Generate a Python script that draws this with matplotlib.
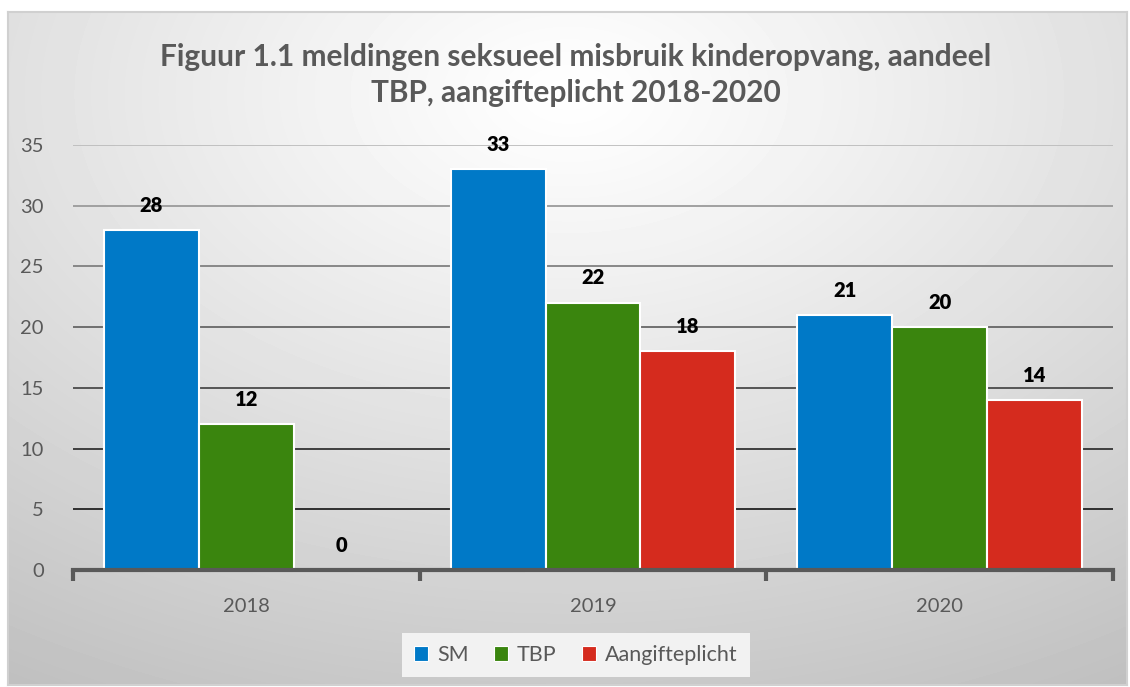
import numpy as np
import matplotlib
matplotlib.use("Agg")
import matplotlib.pyplot as plt
from matplotlib.patches import Patch

years = ["2018", "2019", "2020"]
series_names = ["SM", "TBP", "Aangifteplicht"]
sm = [28, 33, 21]
tbp = [12, 22, 20]
aangifte = [0, 18, 14]
yticks = [0, 5, 10, 15, 20, 25, 30, 35]
title = "Figuur 1.1 meldingen seksueel misbruik kinderopvang, aandeel\nTBP, aangifteplicht 2018-2020"

colors = ["#0079C7", "#3A850E", "#D52B1E"]
grid_colors = {5: "#222222", 10: "#333333", 15: "#4a4a4a", 20: "#666666",
               25: "#808080", 30: "#9a9a9a", 35: "#bdbdbd"}

W, H = 1130, 687
plt.rcParams['font.family'] = ['Lato', 'DejaVu Sans']
fig = plt.figure(figsize=(W / 100, H / 100), dpi=100)
fig.patch.set_facecolor("white")

# background radial gradient inside border
bx0, by0, bx1, by1 = 8, 12, 1127, 685
bg = fig.add_axes([bx0 / W, 1 - by1 / H, (bx1 - bx0) / W, (by1 - by0) / H])
ny, nx = 200, 320
yy, xx = np.mgrid[0:ny, 0:nx]
cx, cy = nx * 0.5, ny * 0.12
d = np.sqrt(((xx - cx) / nx) ** 2 + ((yy - cy) / ny) ** 2 * 0.9)
d = d / d.max()
val = 1.0 - 0.25 * np.clip(d, 0, 1) ** 1.1
bg.imshow(val, cmap="gray", vmin=0, vmax=1, aspect="auto", extent=[0, 1, 0, 1], interpolation="bilinear")
bg.set_xticks([]); bg.set_yticks([])
for s in bg.spines.values():
    s.set_color("#d0d0d0")
    s.set_linewidth(1.5)
bg.set_zorder(0)

ax = fig.add_axes([73 / W, 1 - 570 / H, (1113 - 73) / W, (570 - 145) / H])
ax.set_zorder(1)
ax.patch.set_alpha(0)
ax.set_xlim(-0.5, 2.5)
ax.set_ylim(0, 35)

x = np.arange(len(years))
w = 0.274
data = [sm, tbp, aangifte]
for i, (vals, c) in enumerate(zip(data, colors)):
    pos = x + (i - 1) * w
    ax.bar(pos, vals, width=w, color=c, edgecolor="white", linewidth=1.5, zorder=3)
    for px, v in zip(pos, vals):
        ax.annotate(str(v), (px, v), xytext=(0, 18), textcoords="offset points",
                    ha="center", va="center", fontsize=14.5, fontweight="heavy", color="black", zorder=4)

for t in yticks[1:]:
    ax.axhline(t, color=grid_colors[t], linewidth=1.3, zorder=1)

for s in ["top", "right", "left"]:
    ax.spines[s].set_visible(False)
ax.spines["bottom"].set_color("#595959")
ax.spines["bottom"].set_linewidth(3)
ax.spines["bottom"].set_zorder(5)

ax.set_yticks(yticks)
ax.set_yticklabels([str(t) for t in yticks])
ax.tick_params(axis="y", length=0, pad=21, labelsize=14.5, labelcolor="#595959")
ax.set_xticks(x)
ax.set_xticklabels(years)
ax.tick_params(axis="x", length=0, pad=20, labelsize=14.5, labelcolor="#595959")
ax.set_xticks([-0.5, 0.5, 1.5, 2.5], minor=True)
ax.tick_params(axis="x", which="minor", length=8, width=3, color="#595959", direction="out")

fig.text(576 / W, 1 - 75 / H, title, ha="center", va="center", fontsize=21.5,
         fontweight="bold", color="#595959", linespacing=1.32)

handles = [Patch(facecolor=c, edgecolor="white", linewidth=0.8) for c in colors]
leg = fig.legend(handles, series_names, loc="center", bbox_to_anchor=(576 / W, 1 - 655 / H),
                 ncol=3, frameon=True, fontsize=15.5, handlelength=0.65, handleheight=0.65,
                 handletextpad=0.4, columnspacing=1.2, borderpad=0.55, fancybox=False)
leg.get_frame().set_facecolor("#f2f2f2")
leg.get_frame().set_edgecolor("none")
leg.get_frame().set_alpha(1)
for t in leg.get_texts():
    t.set_color("#595959")

fig.savefig("out.png", dpi=100)
